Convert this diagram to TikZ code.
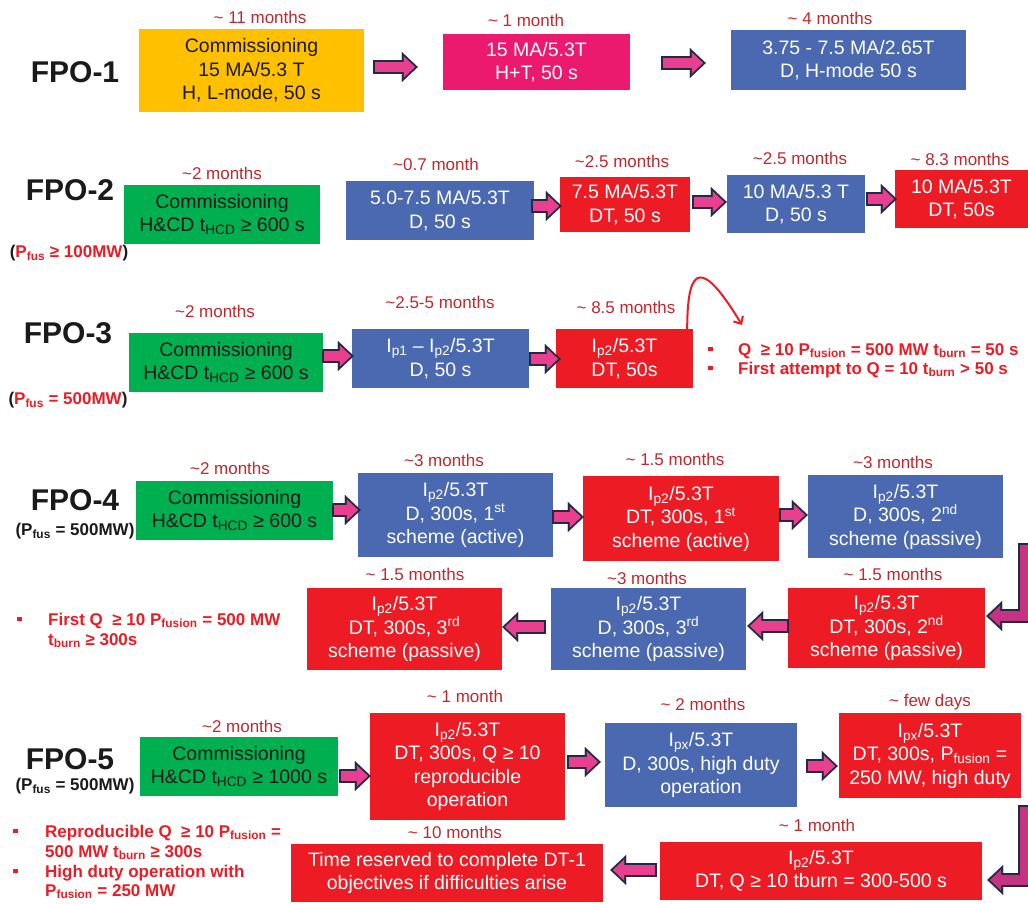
\documentclass[tikz,border=0pt]{standalone}
\usepackage{fontspec}
\setmainfont{Liberation Sans}
\usetikzlibrary{arrows.meta,calc}
\definecolor{cyel}{HTML}{FFC000}
\definecolor{cmag}{HTML}{EC1A6E}
\definecolor{cblue}{HTML}{4A69B0}
\definecolor{cred}{HTML}{ED1C24}
\definecolor{cgreen}{HTML}{00B050}
\definecolor{clab}{HTML}{C0282D}
\definecolor{arrfill}{HTML}{E8408F}
\definecolor{larrfill}{HTML}{C73383}
\definecolor{arrline}{HTML}{1F2B45}
\definecolor{darktext}{HTML}{1A1A1A}
\newcommand\apx{\textasciitilde}
\newcommand\sbs[1]{\textsubscript{#1}}
\newcommand\sps[1]{\textsuperscript{#1}}
\newcommand\bsq[1]{\makebox[0pt][r]{\rule[4pt]{4.5pt}{4.5pt}\hspace{#1}}}
\tikzset{
  box/.style={inner sep=0pt, align=center, font=\fontsize{19.5}{23.5}\selectfont, text=white},
  lab/.style={text=clab, font=\fontsize{17}{20}\selectfont, inner sep=0pt},
  fpo/.style={font=\fontsize{30}{34}\selectfont\bfseries, text=darktext, inner sep=0pt},
  pf/.style={font=\fontsize{17}{20}\selectfont\bfseries, text=darktext, inner sep=0pt},
  bl/.style={font=\fontsize{17}{20}\selectfont\bfseries, text=cred, inner sep=0pt, anchor=base west},
  barout/.style={line width=14pt, draw=arrline, line join=miter,
    -{Triangle[length=16pt,width=30pt,line width=0.1pt]}},
  barin/.style={line width=10pt, line join=miter, shorten <=2pt, shorten >=2.9pt,
    -{Triangle[length=11pt,width=21pt,line width=0.1pt]}},
  curvarr/.style={draw=cred, line width=2pt, -{Straight Barb[length=6pt,width=11pt]}}
}
\newcommand\barr[2][arrfill]{%
  \draw[barout] #2;
  \draw[barin, draw=#1] #2;}
\begin{document}
\begin{tikzpicture}[x=1pt,y=-1pt]
\path[use as bounding box, fill=white] (0,0) rectangle (1028,904);

% ---------- FPO-1
\node[fpo] (f1) at (75,72) {FPO-1};
\node[box, fill=cyel, text=darktext, minimum width=225pt, minimum height=83pt] (y1) at (251.5,70.5) {Commissioning\\15 MA/5.3 T\\H, L-mode, 50 s};
\node[box, fill=cmag, minimum width=187pt, minimum height=56pt] (m1) at (536.5,62) {15 MA/5.3T\\H+T, 50 s};
\node[box, fill=cblue, minimum width=235pt, minimum height=60pt] (b1) at (848.5,60) {3.75 - 7.5 MA/2.65T\\D, H-mode 50 s};
\node[lab] (t1) at (260,17) {\apx{} 11 months};
\node[lab] (t2) at (526,20) {\apx{} 1 month};
\node[lab] (t3) at (830,18) {\apx{} 4 months};

% ---------- FPO-2
\node[fpo] (f2) at (70,190) {FPO-2};
\node[pf] (p2) at (69,253) {(\textcolor{cred}{P\sbs{fus} ≥ 100MW})};
\node[box, fill=cgreen, text=darktext, minimum width=196pt, minimum height=59pt] (g2) at (222,214.5) {Commissioning\\H\&CD t\sbs{HCD} ≥ 600 s};
\node[box, fill=cblue, minimum width=188pt, minimum height=59pt] (b2) at (440,210.5) {5.0-7.5 MA/5.3T\\D, 50 s};
\node[box, fill=cred, minimum width=130pt, minimum height=55pt] (r2) at (625,204.5) {7.5 MA/5.3T\\DT, 50 s};
\node[box, fill=cblue, minimum width=138pt, minimum height=58pt] (b2b) at (796,204) {10 MA/5.3 T\\D, 50 s};
\node[box, fill=cred, minimum width=133pt, minimum height=58pt] (r2b) at (961.5,199) {10 MA/5.3T\\DT, 50s};
\node[lab] (t4) at (222,173) {\apx2 months};
\node[lab] (t5) at (436,164) {\apx0.7 month};
\node[lab] (t6) at (622,161) {\apx2.5 months};
\node[lab] (t7) at (800,158) {\apx2.5 months};
\node[lab] (t8) at (960,159) {\apx{} 8.3 months};

% ---------- FPO-3
\node[fpo] (f3) at (68,333) {FPO-3};
\node[pf] (p3) at (68,400) {(\textcolor{cred}{P\sbs{fus} = 500MW})};
\node[box, fill=cgreen, text=darktext, minimum width=194pt, minimum height=59pt] (g3) at (226,362.5) {Commissioning\\H\&CD t\sbs{HCD} ≥ 600 s};
\node[box, fill=cblue, minimum width=177pt, minimum height=59pt] (b3) at (440.5,358.5) {I\sbs{p1} – I\sbs{p2}/5.3T\\D, 50 s};
\node[box, fill=cred, minimum width=137pt, minimum height=59pt] (r3) at (624.5,358.5) {I\sbs{p2}/5.3T\\DT, 50s};
\node[lab] (t9) at (215,311) {\apx2 months};
\node[lab] (t10) at (440,302) {\apx2.5-5 months};
\node[lab] (t11) at (626,307) {\apx{} 8.5 months};
\node[bl] (q3a) at (738,355) {\bsq{25.5pt}Q\ \ ≥ 10 P\sbs{fusion} = 500 MW t\sbs{burn} = 50 s};
\node[bl] (q3b) at (738,374) {\bsq{25.5pt}First attempt to Q = 10 t\sbs{burn} > 50 s};
\coordinate (q3) at (742,325);
\draw[curvarr] ($(r3.north east)+(-6,0)$) .. controls ($(r3.north east)+(-6,-67)$) and ($(r3.north east)+(10,-68)$) .. (q3);

% ---------- FPO-4
\node[fpo] (f4) at (75,500) {FPO-4};
\node[pf] (p4) at (75,531) {(P\sbs{fus} = 500MW)};
\node[box, fill=cgreen, text=darktext, minimum width=197pt, minimum height=59pt] (g4) at (234.5,510.5) {Commissioning\\H\&CD t\sbs{HCD} ≥ 600 s};
\node[box, fill=cblue, minimum width=195pt, minimum height=84pt] (b4) at (455.5,515) {I\sbs{p2}/5.3T\\D, 300s, 1\sps{st}\\scheme (active)};
\node[box, fill=cred, minimum width=196pt, minimum height=85pt] (r4) at (681,518.5) {I\sbs{p2}/5.3T\\DT, 300s, 1\sps{st}\\scheme (active)};
\node[box, fill=cblue, minimum width=195pt, minimum height=83pt] (b4b) at (905.5,516.5) {I\sbs{p2}/5.3T\\D, 300s, 2\sps{nd}\\scheme (passive)};
\node[box, fill=cred, minimum width=197pt, minimum height=80pt] (r4a) at (886.5,628) {I\sbs{p2}/5.3T\\DT, 300s, 2\sps{nd}\\scheme (passive)};
\node[box, fill=cblue, minimum width=195pt, minimum height=82pt] (b4a) at (648.5,629) {I\sbs{p2}/5.3T\\D, 300s, 3\sps{rd}\\scheme (passive)};
\node[box, fill=cred, minimum width=195pt, minimum height=82pt] (r4c) at (404.5,629) {I\sbs{p2}/5.3T\\DT, 300s, 3\sps{rd}\\scheme (passive)};
\node[lab] (t12) at (230,468) {\apx2 months};
\node[lab] (t13) at (444,460) {\apx3 months};
\node[lab] (t14) at (675,459) {\apx{} 1.5 months};
\node[lab] (t15) at (893,462) {\apx3 months};
\node[lab] (t16) at (893,574) {\apx{} 1.5 months};
\node[lab] (t17) at (647,578) {\apx3 months};
\node[lab] (t18) at (415,574) {\apx{} 1.5 months};
\node[bl] (q4a) at (48,625) {\bsq{26.5pt}First Q\ \ ≥ 10 P\sbs{fusion} = 500 MW};
\node[bl] (q4b) at (48,645) {t\sbs{burn} ≥ 300s};

% ---------- FPO-5
\node[fpo] (f5) at (70,759) {FPO-5};
\node[pf] (p5) at (75,786) {(P\sbs{fus} = 500MW)};
\node[box, fill=cgreen, text=darktext, minimum width=198pt, minimum height=59pt] (g5) at (239,766.5) {Commissioning\\H\&CD t\sbs{HCD} ≥ 1000 s};
\node[box, fill=cred, minimum width=195pt, minimum height=107pt] (r5) at (467.5,766.5) {I\sbs{p2}/5.3T\\DT, 300s, Q ≥ 10\\reproducible\\operation};
\node[box, fill=cblue, minimum width=192pt, minimum height=84pt] (b5) at (701,765) {I\sbs{px}/5.3T\\D, 300s, high duty\\operation};
\node[box, fill=cred, minimum width=182pt, minimum height=85pt] (r5b) at (930,755.5) {I\sbs{px}/5.3T\\DT, 300s, P\sbs{fusion} =\\250 MW, high duty};
\node[box, fill=cred, minimum width=322pt, minimum height=58pt] (r5c) at (821,871) {I\sbs{p2}/5.3T\\DT, Q ≥ 10 tburn = 300-500 s};
\node[box, fill=cred, minimum width=312pt, minimum height=58pt] (r5d) at (447,873) {Time reserved to complete DT-1\\objectives if difficulties arise};
\node[lab] (t19) at (242,726) {\apx2 months};
\node[lab] (t20) at (465,696) {\apx{} 1 month};
\node[lab] (t21) at (703,704) {\apx{} 2 months};
\node[lab] (t22) at (930,702) {\apx{} few days};
\node[lab] (t23) at (817,825) {\apx{} 1 month};
\node[lab] (t24) at (455,832) {\apx{} 10 months};
\node[bl] (q5a) at (45,837) {\bsq{27.5pt}Reproducible Q\ \ ≥ 10 P\sbs{fusion} =};
\node[bl] (q5b) at (45,857) {500 MW t\sbs{burn} ≥ 300s};
\node[bl] (q5c) at (45,877) {\bsq{27.5pt}High duty operation with};
\node[bl] (q5d) at (45,896) {P\sbs{fusion} = 250 MW};

% ---------- block arrows
\barr{($(y1.east |- 0,67)+(9,0)$) -- ($(m1.west |- 0,67)+(-25,0)$)}
\barr{($(m1.east |- 0,63)+(31,0)$) -- ($(b1.west |- 0,63)+(-25,0)$)}
\barr{($(b2.east |- 0,206)+(-3,0)$) -- ($(r2.west |- 0,206)+(2,0)$)}
\barr{($(r2.east |- 0,202)+(2,0)$) -- ($(b2b.west |- 0,202)+(0,0)$)}
\barr{($(b2b.east |- 0,199)+(1,0)$) -- ($(r2b.west |- 0,199)+(2,0)$)}
\barr{($(g3.east |- 0,356)+(-1,0)$) -- ($(b3.west |- 0,356)+(2,0)$)}
\barr{($(b3.east |- 0,359)+(0,0)$) -- ($(r3.west |- 0,359)+(5,0)$)}
\barr{($(g4.east |- 0,510)+(-1,0)$) -- ($(b4.west |- 0,510)+(3,0)$)}
\barr{($(b4.east |- 0,517)+(-1,0)$) -- ($(r4.west |- 0,517)+(1,0)$)}
\barr{($(r4.east |- 0,515)+(0,0)$) -- ($(b4b.west |- 0,515)+(0,0)$)}
\barr{($(r4a.west |- 0,626)+(1,0)$) -- ($(b4a.east |- 0,626)+(1,0)$)}
\barr{($(b4a.west |- 0,627)+(-5,0)$) -- ($(r4c.east |- 0,627)+(0,0)$)}
\barr{($(g5.east |- 0,776)+(1,0)$) -- ($(r5.west |- 0,776)+(1,0)$)}
\barr{($(r5.east |- 0,762)+(2,0)$) -- ($(b5.west |- 0,762)+(-4,0)$)}
\barr{($(b5.east |- 0,766)+(9,0)$) -- ($(r5b.west |- 0,766)+(-1,0)$)}
\barr{($(r5c.west |- 0,870)+(-3,0)$) -- ($(r5d.east |- 0,870)+(7,0)$)}
\coordinate (l1s) at (1025,543);
\coordinate (l2s) at (1025,805);
\barr[larrfill]{(l1s) |- ([xshift=1pt,yshift=12pt]r4a.east)}
\barr[larrfill]{(l2s) |- ([xshift=5pt,yshift=-9pt]r5c.east)}
\end{tikzpicture}
\end{document}
